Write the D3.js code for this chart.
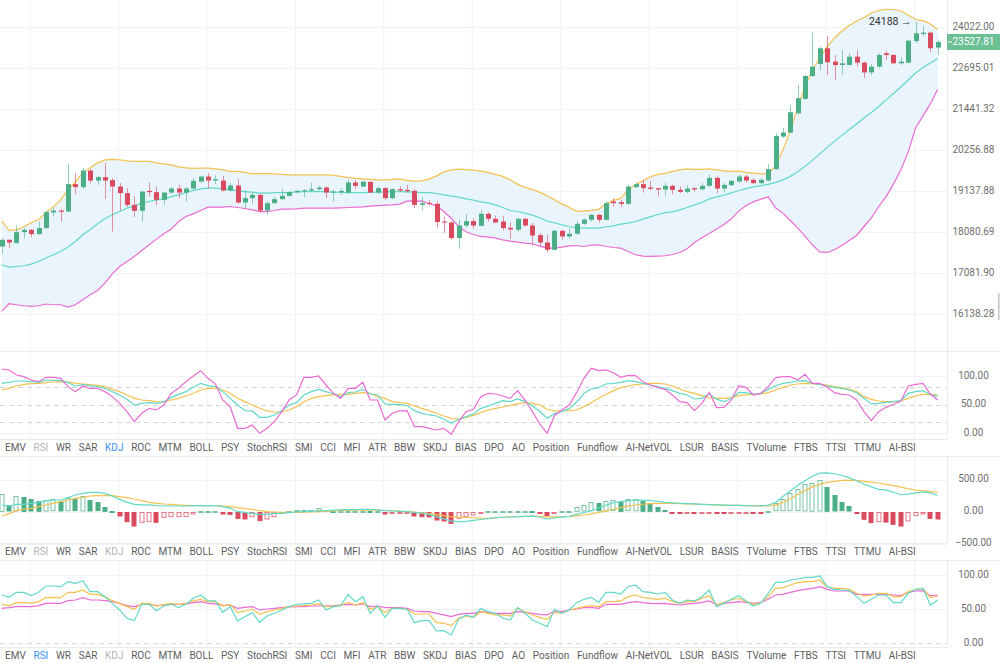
<!DOCTYPE html>
<html>
<head>
<meta charset="utf-8">
<script src="https://cdn.jsdelivr.net/npm/d3@7"></script>
<style>
  html, body { margin: 0; padding: 0; background: #fff; }
  svg { display: block; font-family: Roboto, "Noto Sans", sans-serif; }
</style>
</head>
<body>
<script>
// candles
const opens = [17721,17886,17804,18078,18136,18028,18179,18576,18627,18601,19321,19241,19688,19417,19509,19428,19257,19081,18774,18619,19141,19107,18905,19097,19203,19097,19203,19391,19525,19417,19417,19150,19283,18835,18949,19036,18627,18818,18923,19010,19107,19133,19150,19186,19230,19097,19107,19097,19364,19257,19382,19097,19213,18949,19186,19168,19141,18774,18818,18800,18346,18320,17928,18244,18356,18237,18542,18414,18346,18186,18136,18414,18244,18003,17819,17640,18111,17969,18036,18287,18389,18516,18389,18861,18844,18800,19241,19321,19230,19213,19177,19275,19168,19115,19213,19186,19275,19490,19203,19293,19391,19525,19436,19348,19417,19726,20637,20752,21317,21743,22446,22822,23324,22896,22791,22791,23054,22864,22556,22738,23163,23108,22843,22864,23560,23791,23835,23346];
const highs = [17928,17900,18244,18179,18154,18346,18627,18697,18663,19863,19617,19754,19726,19552,19899,19482,19348,19213,18991,19150,19364,19257,19123,19257,19302,19241,19471,19552,19617,19552,19544,19348,19454,19150,19097,19063,18879,18991,19195,19141,19186,19186,19364,19275,19257,19168,19213,19436,19436,19409,19391,19257,19241,19213,19257,19302,19186,18975,18905,18861,18473,18346,18389,18534,18432,18645,18576,18499,18491,18320,18432,18432,18305,18053,18011,18136,18136,18179,18371,18422,18534,18534,18861,18949,18905,19302,19364,19436,19409,19213,19364,19302,19257,19293,19241,19348,19579,19525,19364,19436,19571,19571,19482,19482,19871,20734,20895,21563,22168,22477,23849,23376,23724,23108,23269,23163,23269,22896,22822,23163,23237,23140,23033,23593,24188,24055,23869,23615];
const lows = [17543,17682,17800,17928,17953,18011,18161,18473,18346,18586,19054,19195,19348,19302,18923,18094,18627,18714,18457,18346,18991,18756,18774,19063,18949,18861,19168,19348,19213,19321,19123,19123,18800,18689,18800,18576,18516,18800,18905,18975,19063,18975,19123,19150,18949,18861,19036,19063,19186,19241,19081,19063,18905,18931,19123,19097,18689,18619,18756,18194,18053,17886,17665,18179,18161,18219,18346,18305,18118,17911,18094,18219,17738,17721,17575,17630,17886,17928,18011,18262,18346,18320,18371,18731,18714,18774,19213,19097,19168,18991,19010,19054,19081,19081,19123,19150,19257,19081,19097,19275,19364,19364,19321,19330,19391,19707,20590,20734,21266,21713,22415,22633,22477,22322,22477,22759,22738,22384,22477,22686,22949,22822,22791,22843,23494,23724,23193,23108];
const closes = [17886,17819,18078,18136,18028,18179,18586,18627,18594,19321,19241,19688,19417,19509,19417,19257,19081,18774,18619,19123,19107,18905,19097,19203,19097,19203,19409,19525,19417,19454,19150,19283,18835,18949,19036,18627,18818,18923,19010,19107,19141,19160,19186,19230,19097,19123,19141,19364,19275,19382,19097,19213,18949,19186,19150,19133,18774,18818,18792,18331,18320,17928,18244,18356,18244,18542,18414,18320,18179,18144,18414,18244,17993,17819,17640,18111,17969,18036,18287,18397,18516,18389,18818,18818,18800,19257,19321,19213,19195,19177,19275,19168,19115,19203,19177,19275,19490,19203,19302,19409,19525,19417,19348,19436,19726,20657,20752,21346,21764,22446,22738,23324,22876,22791,22843,23054,22864,22556,22738,23108,23108,22843,22896,23571,23813,23835,23324,23527.81];

// bollinger bands
const bollUpper = [18364,18124,18136,18212,18313,18389,18567,18722,18905,19168,19382,19625,19762,19899,19981,19995,19981,19953,19940,19940,19940,19899,19871,19844,19789,19762,19748,19754,19754,19734,19707,19666,19666,19639,19598,19606,19606,19598,19585,19571,19571,19571,19571,19571,19571,19557,19531,19498,19476,19463,19449,19436,19436,19449,19463,19422,19401,19409,19455,19544,19652,19707,19726,19715,19699,19672,19639,19585,19530,19436,19315,19235,19181,19102,19010,18905,18800,18710,18606,18619,18632,18658,18800,18892,18944,19168,19302,19409,19517,19585,19612,19666,19707,19734,19721,19721,19734,19707,19680,19666,19672,19639,19617,19598,19598,19816,20260,20800,21473,22107,22633,23013,23366,23659,23889,24072,24222,24340,24492,24577,24618,24611,24560,24424,24273,24233,24122,23939];
const bollMid = [17278,17223,17237,17254,17295,17357,17439,17519,17599,17707,17844,18011,18136,18287,18414,18516,18601,18689,18748,18818,18861,18905,18931,18991,19036,19097,19150,19195,19213,19213,19203,19168,19141,19123,19107,19081,19081,19097,19097,19097,19115,19123,19123,19123,19123,19107,19102,19097,19097,19097,19102,19107,19115,19123,19123,19115,19107,19097,19097,19071,19036,19002,18976,18931,18897,18853,18827,18774,18705,18627,18601,18560,18508,18440,18356,18313,18262,18219,18186,18179,18179,18179,18212,18237,18280,18305,18346,18406,18465,18524,18573,18594,18645,18705,18774,18835,18931,18984,19028,19089,19150,19203,19248,19283,19316,19369,19436,19530,19652,19803,19967,20148,20330,20500,20671,20843,21003,21178,21340,21518,21713,21908,22107,22322,22540,22712,22854,22997];
const bollLower = [16196,16370,16347,16324,16309,16324,16363,16347,16347,16295,16347,16460,16575,16674,16845,17063,17237,17357,17478,17623,17763,17903,18036,18154,18346,18473,18542,18627,18714,18714,18714,18731,18705,18679,18645,18601,18601,18627,18663,18663,18671,18689,18689,18689,18689,18689,18697,18705,18714,18722,18740,18756,18766,18774,18792,18871,18879,18871,18808,18748,18601,18422,18219,18086,18018,17969,17953,17928,17886,17854,17829,17805,17788,17731,17682,17682,17707,17738,17746,17721,17756,17763,17721,17697,17682,17599,17519,17487,17478,17487,17495,17526,17575,17665,17819,17936,18043,18154,18270,18414,18611,18756,18853,18923,18984,18697,18560,18371,18186,17969,17763,17591,17575,17640,17746,17869,17994,18219,18440,18731,18991,19321,19707,20204,20887,21237,21593,22037];

// KDJ
const kLine = [87.2,89.0,91.3,91.3,90.1,89.0,93.0,92.4,91.9,88.4,82.6,84.9,83.1,81.4,78.5,72.7,66.9,59.3,49.4,52.3,53.5,52.3,55.2,62.2,68.0,72.7,80.2,87.2,83.1,81.4,72.7,61.0,49.4,39.5,39.0,27.9,27.9,32.0,39.5,49.4,53.5,66.9,72.7,76.7,72.7,68.6,64.0,70.9,72.1,76.7,68.6,66.9,51.2,50.6,50.0,48.3,39.5,34.9,32.0,30.2,24.4,17.4,24.4,29.1,33.7,43.6,47.7,52.3,57.0,55.2,59.9,55.2,47.7,38.4,26.2,34.3,37.8,43.0,54.1,69.8,77.3,79.7,86.0,87.2,89.0,91.9,90.1,87.2,84.3,81.4,78.5,74.4,69.8,66.9,59.9,61.0,68.6,59.3,55.2,61.0,70.9,70.9,68.0,69.8,76.7,83.1,87.2,89.0,91.3,91.9,87.2,85.5,82.6,80.2,78.5,75.6,70.9,61.0,51.2,52.3,54.1,55.2,57.0,69.8,72.7,74.4,68.0,64.0];
const dLine = [75.6,78.5,82.6,85.5,86.6,87.2,88.4,89.5,90.1,89.5,87.2,86.0,84.9,83.7,81.4,76.7,72.7,66.9,61.0,58.1,57.0,55.2,54.7,58.1,61.0,65.1,69.8,75.6,78.5,78.5,75.6,69.8,61.0,55.2,49.4,43.6,39.0,37.2,37.2,40.7,46.5,55.2,61.0,64.0,65.7,66.9,68.0,68.0,69.8,70.9,69.8,64.0,61.0,55.2,53.5,52.3,47.7,43.6,39.5,34.9,30.2,26.2,25.0,27.9,31.4,36.0,40.7,43.6,45.9,48.8,51.2,53.5,52.3,49.4,41.9,39.0,39.0,39.5,40.7,46.5,53.5,61.0,68.0,74.4,79.7,82.6,84.9,86.0,87.2,87.2,86.0,82.6,77.3,72.7,69.8,65.7,62.2,61.0,61.0,62.2,65.7,66.9,68.0,68.6,70.9,75.6,80.2,84.3,86.0,87.2,86.6,85.5,84.3,81.4,79.7,76.7,72.7,64.0,59.3,56.4,55.2,55.2,56.4,61.0,65.1,68.0,68.0,66.9];
const jLine = [112.2,110.5,101.7,98.8,93.0,90.1,97.7,97.7,95.9,81.4,72.7,82.6,78.5,78.5,72.7,64.0,52.3,37.8,20.3,34.9,43.6,40.7,49.4,69.8,78.5,90.1,100,109.3,95.9,86.0,58.1,46.5,8.7,8.7,14.5,0,8.7,20.3,37.8,58.1,66.9,97.7,97.7,100,84.3,69.8,61.0,78.5,78.5,89.0,58.1,58.1,23.3,34.9,39.0,39.5,11.6,11.6,8.7,5.8,8.7,-1.7,20.3,37.8,41.9,64.0,69.8,68.6,65.1,61.0,74.4,58.1,37.8,16.3,0,30.8,40.7,49.4,70.9,95.9,113.4,109.3,110.5,105.8,97.7,101.2,100.6,90.1,84.3,80.2,76.7,66.9,55.2,53.5,39.5,52.3,71.5,44.8,45.3,58.1,83.1,80.2,66.9,69.8,81.4,97.1,98.8,98.8,93.0,102.9,87.2,87.2,80.2,70.9,68.0,66.9,58.1,37.8,22.1,37.8,45.3,50.6,56.4,82.6,85.5,87.2,68.6,58.1];

// MACD
const difLine = [102,86,112,112,128,143,169,180,180,216,258,284,299,299,284,242,190,143,112,102,102,91,86,86,86,86,91,91,91,91,76,50,-3,-13,-29,-44,-44,-29,-29,-18,-8,-2,3,8,14,20,25,28,30,32,34,25,13,8,3,-3,-13,-25,-45,-80,-115,-150,-159,-155,-140,-125,-110,-95,-90,-86,-81,-76,-72,-90,-117,-100,-88,-75,-46,-15,12,55,98,138,155,169,176,178,172,158,142,135,129,123,118,112,107,103,100,97,95,93,90,88,100,140,235,320,405,482,550,600,604,590,562,530,480,425,385,346,338,300,262,272,292,308,290,250];
const deaLine = [-70,-34,13,39,50,76,102,128,154,180,206,221,242,247,247,247,232,216,195,169,143,128,117,112,102,96,91,91,91,91,86,76,60,44,34,13,-3,-8,-13,-13,-13,-10,-6,-3,2,8,13,17,20,22,23,20,16,12,6,0,-10,-22,-33,-50,-65,-80,-88,-92,-98,-104,-106,-100,-90,-86,-80,-76,-72,-74,-84,-84,-82,-78,-68,-55,-36,-15,10,35,60,85,102,113,122,127,129,128,123,119,116,112,108,104,100,97,95,92,89,87,86,100,140,200,265,330,385,425,455,472,485,490,485,472,460,445,425,405,380,355,335,325,312,300];
const macdHist = [280,102,242,232,195,169,180,190,164,206,190,242,180,143,76,13,-70,-159,-227,-169,-159,-169,-91,-81,-81,-81,-39,3,3,3,-39,-45,-107,-117,-81,-143,-117,-81,-29,2,23,23,23,49,23,8,10,15,15,15,5,5,-39,-29,-29,-13,-70,-81,-85,-133,-148,-185,-107,-81,-55,-8,5,5,10,10,15,15,8,-12,-65,-5,5,8,76,102,143,128,164,172,154,190,192,169,138,76,23,-10,-15,-15,-25,-20,-10,-20,-25,-20,-18,-18,-25,-28,5,128,190,284,346,430,450,492,388,258,143,86,-8,-122,-174,-159,-165,-201,-227,-148,-65,-39,-107,-117];

// RSI
const rsi6 = [70.7,67.3,74.6,74.6,69.8,74.6,83.9,83.9,82.9,90.2,87.8,91.7,75.6,75.6,68.3,58.5,48.8,36.6,33.2,57.1,57.1,47.8,54.6,57.1,52.2,57.1,65.9,70.7,62.0,62.0,45.4,53.7,32.7,39.0,44.9,30.7,40.0,43.9,48.8,53.7,57.1,57.6,58.5,63.4,48.8,53.7,55.0,71.7,61.0,68.3,43.9,54.6,38.0,51.2,51.2,50.2,30.2,33.2,33.2,18.0,18.5,12.2,35.1,41.5,38.0,51.2,46.3,43.9,36.6,34.1,52.2,43.9,34.1,29.3,24.4,49.8,43.9,48.8,59.5,64.4,67.3,60.0,74.6,74.6,72.2,82.9,85.4,75.6,74.6,72.2,74.6,63.4,58.5,63.4,62.0,68.3,78.0,53.7,58.5,64.4,69.8,62.0,54.6,58.5,73.2,89.3,89.3,92.7,94.1,96.6,96.6,98.5,82.9,79.0,78.0,77.1,68.3,58.5,64.4,70.7,70.7,59.5,59.5,73.2,79.0,80.5,56.1,63.4];
const rsi12 = [57.1,55.1,59.5,60.0,58.5,61.0,66.8,67.3,66.8,74.6,74.6,78.0,71.7,71.7,68.3,62.4,58.5,53.7,49.8,58.5,58.5,54.6,57.1,58.0,57.1,58.5,62.0,64.4,61.0,61.0,54.6,57.1,44.9,47.3,49.8,42.4,46.3,48.8,51.2,53.7,54.6,55.1,56.1,57.6,53.7,54.6,55.5,60.0,56.1,59.5,49.8,53.7,44.9,51.2,51.2,49.8,42.9,42.9,42.9,30.2,29.3,25.9,36.6,40.0,38.0,46.3,43.9,41.5,41.5,40.0,51.2,46.3,41.5,38.0,35.1,45.4,43.9,48.8,51.2,53.7,55.1,53.7,61.0,61.0,62.0,68.3,70.7,66.8,65.9,64.4,65.9,61.0,58.5,61.0,61.0,65.9,69.8,56.1,60.0,63.4,65.9,61.0,57.1,59.5,68.3,80.5,81.5,85.4,88.8,90.2,90.2,92.7,82.0,80.5,80.5,79.0,73.2,69.3,70.7,73.2,73.2,68.3,68.3,75.6,79.0,80.5,66.8,69.3];
const rsi24 = [51.2,52.2,53.7,53.7,53.7,55.1,58.5,58.5,58.5,62.4,63.4,66.8,63.4,63.4,62.4,61.0,58.5,55.1,53.7,57.1,57.1,55.1,56.1,57.1,57.1,57.6,59.5,61.0,58.5,57.6,55.6,56.1,51.2,52.7,53.7,48.8,50.2,51.2,52.2,53.2,53.7,53.7,54.6,54.6,54.6,55.1,56.1,57.1,56.1,57.6,53.7,54.6,52.2,52.2,52.2,51.2,47.3,46.3,46.3,43.9,41.5,39.0,42.4,43.9,43.9,46.3,45.4,43.9,43.9,43.9,46.3,45.4,43.9,42.4,41.5,47.3,46.3,48.8,50.2,52.2,52.7,51.2,57.1,57.1,57.1,59.5,61.0,59.5,58.5,58.0,58.5,57.1,56.1,57.6,58.5,60.0,62.0,56.1,58.5,59.5,61.0,60.0,58.5,60.0,64.4,70.7,71.7,74.6,77.1,79.0,80.5,82.9,79.0,76.6,76.6,76.6,71.7,71.7,71.7,71.7,71.7,70.7,69.8,74.6,76.6,77.1,69.8,70.7];

// axes and tabs
const priceTicks = [24022.00, 22695.01, 21441.32, 20256.88, 19137.88, 18080.69, 17081.90, 16138.28];
const oscTicks = [100, 50, 0];
const kdjDashed = [80, 50, 20];
const macdTicks = [500, 0, -500];
const tabLabels = ['EMV','RSI','WR','SAR','KDJ','ROC','MTM','BOLL','PSY','StochRSI','SMI','CCI','MFI','ATR','BBW','SKDJ','BIAS','DPO','AO','Position','Fundflow','AI-NetVOL','LSUR','BASIS','TVolume','FTBS','TTSI','TTMU','AI-BSI'];

const width = 1000;
const height = 663;
const plotRight = 947;
const axisMid = 973.5;

const green = '#4cae86';
const red = '#da4a5e';
const gridColor = '#f0f2f5';
const borderColor = '#e9ebef';
const cyan = '#62d8c7';
const amber = '#f4c24f';
const pink = '#ea6bd2';

const svg = d3.select('body').append('svg')
  .attr('width', width)
  .attr('height', height);

const n = closes.length;
const xScale = d3.scaleLinear().domain([0, n - 1]).range([1.7, 937.7]);
const xGrid = d3.range(3.85, n, 12);
const bodyW = 5;

const fmt = d3.format('.2f');

// pane frame: grid, clip and right separator
function drawPane(id, top, bottom) {
  svg.append('clipPath').attr('id', id)
    .append('rect').attr('x', 0).attr('y', top).attr('width', plotRight).attr('height', bottom - top);
  svg.append('g').selectAll('line').data(xGrid).enter().append('line')
    .attr('x1', d => xScale(d)).attr('x2', d => xScale(d))
    .attr('y1', top).attr('y2', bottom)
    .attr('stroke', gridColor);
  svg.append('line')
    .attr('x1', plotRight + 0.5).attr('x2', plotRight + 0.5)
    .attr('y1', top).attr('y2', bottom)
    .attr('stroke', borderColor);
}

function hLines(values, yScale, dash, color) {
  svg.append('g').selectAll('line').data(values).enter().append('line')
    .attr('x1', 0).attr('x2', plotRight)
    .attr('y1', d => Math.round(yScale(d)) + 0.5).attr('y2', d => Math.round(yScale(d)) + 0.5)
    .attr('stroke', color)
    .attr('stroke-dasharray', dash);
}

function axisLabels(values, yScale, format) {
  svg.append('g').selectAll('text').data(values).enter().append('text')
    .attr('x', axisMid).attr('y', d => yScale(d))
    .attr('text-anchor', 'middle').attr('dominant-baseline', 'middle')
    .attr('font-size', 10).attr('fill', '#6f6f6f')
    .text(format);
}

function drawLine(values, yScale, color, clip) {
  const line = d3.line().x((d, i) => xScale(i)).y(d => yScale(d));
  svg.append('path').datum(values)
    .attr('clip-path', `url(#${clip})`)
    .attr('d', line)
    .attr('fill', 'none')
    .attr('stroke', color)
    .attr('stroke-width', 1.2);
}

function drawTabs(y, active, muted) {
  const g = svg.append('g');
  let cursor = 5;
  tabLabels.forEach(name => {
    const t = g.append('text')
      .attr('x', cursor).attr('y', y)
      .attr('dominant-baseline', 'middle')
      .attr('font-size', 10)
      .attr('fill', name === active ? '#3c8ef5' : muted.includes(name) ? '#b4b4b4' : '#5d5d5d')
      .text(name);
    cursor += t.node().getComputedTextLength() + 7.7;
  });
}

function separator(y, x2) {
  svg.append('line').attr('x1', 0).attr('x2', x2)
    .attr('y1', y + 0.5).attr('y2', y + 0.5).attr('stroke', borderColor);
}

// ---------- main price pane ----------
const yPrice = d3.scaleLog().domain([16138.28, 24022]).range([314, 27]);
drawPane('clipMain', 0, 351);
hLines(priceTicks, yPrice, null, gridColor);

const band = d3.area()
  .x((d, i) => xScale(i))
  .y0((d, i) => yPrice(bollLower[i]))
  .y1((d, i) => yPrice(bollUpper[i]));
svg.append('path').datum(bollMid)
  .attr('clip-path', 'url(#clipMain)')
  .attr('d', band)
  .attr('fill', '#e7f3fd')
  .attr('opacity', 0.9);

drawLine(bollUpper, yPrice, amber, 'clipMain');
drawLine(bollMid, yPrice, cyan, 'clipMain');
drawLine(bollLower, yPrice, pink, 'clipMain');

const candles = svg.append('g').attr('clip-path', 'url(#clipMain)');
const idx = d3.range(n);
const col = i => closes[i] >= opens[i] ? green : red;
candles.selectAll('line').data(idx).enter().append('line')
  .attr('x1', i => Math.round(xScale(i)) + 0.5).attr('x2', i => Math.round(xScale(i)) + 0.5)
  .attr('y1', i => yPrice(highs[i])).attr('y2', i => yPrice(lows[i]))
  .attr('stroke', col).attr('stroke-opacity', 0.6);
candles.selectAll('rect').data(idx).enter().append('rect')
  .attr('x', i => Math.round(xScale(i)) + 0.5 - bodyW / 2)
  .attr('y', i => yPrice(Math.max(opens[i], closes[i])))
  .attr('width', bodyW)
  .attr('height', i => Math.max(1, yPrice(Math.min(opens[i], closes[i])) - yPrice(Math.max(opens[i], closes[i]))))
  .attr('fill', col);

// highest high marker
const hiIdx = d3.maxIndex(highs);
svg.append('text')
  .attr('x', xScale(hiIdx) - 4).attr('y', yPrice(highs[hiIdx]))
  .attr('text-anchor', 'end').attr('dominant-baseline', 'middle')
  .attr('font-size', 10.5).attr('fill', '#333')
  .text(`${Math.round(highs[hiIdx])} \u2192`);

axisLabels(priceTicks, yPrice, fmt);

// last price tag
const last = closes[n - 1];
svg.append('rect')
  .attr('x', plotRight).attr('y', yPrice(last) - 8)
  .attr('width', width - plotRight).attr('height', 16)
  .attr('fill', '#6dbf95');
svg.append('line')
  .attr('x1', plotRight + 1).attr('x2', plotRight + 5)
  .attr('y1', yPrice(last)).attr('y2', yPrice(last))
  .attr('stroke', '#fff');
svg.append('text')
  .attr('x', axisMid).attr('y', yPrice(last))
  .attr('text-anchor', 'middle').attr('dominant-baseline', 'middle')
  .attr('font-size', 10).attr('fill', '#fff')
  .text(fmt(last));

// small scroll handle on the right edge
svg.append('rect')
  .attr('x', 998).attr('y', 293)
  .attr('width', 1.5).attr('height', 27)
  .attr('fill', '#c4c4c4');

separator(351, width);

// ---------- KDJ pane ----------
const yKdj = d3.scaleLinear().domain([0, 100]).range([433.3, 376]);
drawPane('clipKdj', 352, 439);
hLines([100, 0], yKdj, null, gridColor);
hLines(kdjDashed, yKdj, '5,4', '#d6d6d6');
drawLine(dLine, yKdj, amber, 'clipKdj');
drawLine(kLine, yKdj, cyan, 'clipKdj');
drawLine(jLine, yKdj, pink, 'clipKdj');
axisLabels(oscTicks, yKdj, fmt);
separator(439, plotRight);
drawTabs(448, 'KDJ', ['RSI']);
separator(456, width);

// ---------- MACD pane ----------
const yMacd = d3.scaleLinear().domain([-500, 500]).range([543.5, 479.5]);
drawPane('clipMacd', 457, 543);
hLines(macdTicks, yMacd, null, gridColor);
const bars = svg.append('g').attr('clip-path', 'url(#clipMacd)');
bars.selectAll('rect').data(idx).enter().append('rect')
  .attr('x', i => Math.round(xScale(i)) - 2)
  .attr('y', i => Math.round(yMacd(Math.max(0, macdHist[i]))) + 0.5)
  .attr('width', bodyW - 1)
  .attr('height', i => Math.max(1, Math.abs(yMacd(macdHist[i]) - yMacd(0)) - 1))
  .attr('fill', i => {
    const rising = i === 0 || macdHist[i] >= macdHist[i - 1];
    return rising ? '#fff' : (macdHist[i] >= 0 ? green : red);
  })
  .attr('stroke', i => macdHist[i] >= 0 ? green : red)
  .attr('stroke-opacity', i => (i === 0 || macdHist[i] >= macdHist[i - 1]) ? 0.75 : 1);
drawLine(deaLine, yMacd, amber, 'clipMacd');
drawLine(difLine, yMacd, cyan, 'clipMacd');
axisLabels(macdTicks, yMacd, fmt);
separator(543, plotRight);
drawTabs(552, null, ['RSI', 'KDJ']);
separator(560, width);

// ---------- RSI pane ----------
const yRsi = d3.scaleLinear().domain([0, 100]).range([643.3, 575]);
drawPane('clipRsi', 561, 647);
hLines([100, 50], yRsi, null, gridColor);
hLines([0], yRsi, '5,4', '#d8cfe0');
drawLine(rsi24, yRsi, pink, 'clipRsi');
drawLine(rsi12, yRsi, amber, 'clipRsi');
drawLine(rsi6, yRsi, cyan, 'clipRsi');
axisLabels(oscTicks, yRsi, fmt);
separator(647, plotRight);
drawTabs(656, 'RSI', ['KDJ']);
</script>
</body>
</html>
